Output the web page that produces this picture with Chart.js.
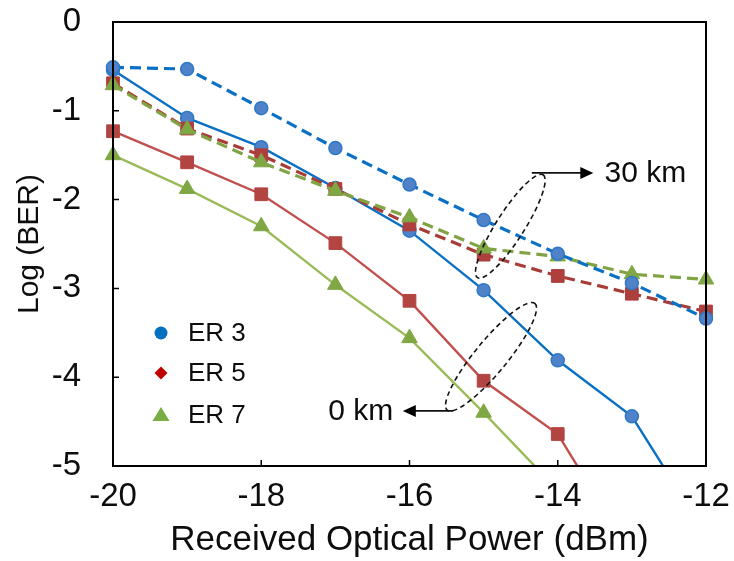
<!DOCTYPE html>
<html>
<head>
<meta charset="utf-8">
<script src="https://cdn.jsdelivr.net/npm/chart.js@4.4.1/dist/chart.umd.min.js"></script>
<style>
  html, body { margin: 0; padding: 0; background: #fff; }
  canvas { display: block; }
</style>
</head>
<body>
<canvas id="c" width="734" height="561"></canvas>
<script>
// Received optical power (dBm) and log10(BER) per extinction ratio and fibre length
const powerDbm = [-20, -19, -18, -17, -16, -15, -14, -13, -12];

const er3_0km  = [-0.54, -1.08, -1.41, -1.87, -2.35, -3.02, -3.81, -4.44, -5.77];
const er5_0km  = [-1.23, -1.58, -1.94, -2.49, -3.14, -4.04, -4.64, -6.00];
const er7_0km  = [-1.50, -1.88, -2.30, -2.96, -3.56, -4.40, -5.27];

const er3_30km = [-0.51, -0.53, -0.97, -1.42, -1.83, -2.23, -2.61, -2.94, -3.34];
const er5_30km = [-0.69, -1.20, -1.50, -1.88, -2.28, -2.62, -2.86, -3.06, -3.26];
const er7_30km = [-0.71, -1.21, -1.58, -1.90, -2.20, -2.55, -2.64, -2.84, -2.90];

const xTicks = [-20, -18, -16, -14, -12];
const yTicks = [0, -1, -2, -3, -4, -5];

const legendLabels = ['ER 3', 'ER 5', 'ER 7'];
const distanceLabels = ['30 km', '0 km'];

const FONT = '"Liberation Sans", Arial, Helvetica, sans-serif';
const TEXT = '#0d0d0d';

function toPoints(values) {
  return values.map((v, i) => ({ x: powerDbm[i], y: v }));
}

const BLUE = '#0a70c4';
const RED = '#c0504d';
const RED_DASH = '#a83c37';
const GREEN = '#9bbb59';
const GREEN_DASH = '#80a343';

function series(label, values, color, fill, pointStyle, radius, dashed, order) {
  return {
    label: label,
    data: toPoints(values),
    borderColor: color,
    borderWidth: dashed ? 3.2 : 2.4,
    borderDash: dashed ? [11, 6] : [],
    pointStyle: pointStyle,
    pointRadius: radius,
    pointBackgroundColor: fill,
    pointBorderColor: pointStyle === 'circle' ? '#2f78c6' : fill,
    pointBorderWidth: pointStyle === 'circle' ? 1.5 : 1,
    tension: 0,
    order: order,
    clip: { left: 20, right: 20, top: 20, bottom: 0 }
  };
}

const datasets = [
  series('ER 3 (30 km)', er3_30km, BLUE, '#4f82c9', 'circle', 6.5, true, 1),
  series('ER 7 (30 km)', er7_30km, GREEN_DASH, '#7fa744', 'triangle', 9, true, 2),
  series('ER 5 (30 km)', er5_30km, RED_DASH, '#ad3f3c', 'rect', 9, true, 3),
  series('ER 3 (0 km)', er3_0km, BLUE, '#4f82c9', 'circle', 6.5, false, 4),
  series('ER 5 (0 km)', er5_0km, RED, '#b24442', 'rect', 9, false, 5),
  series('ER 7 (0 km)', er7_0km, GREEN, '#7fa744', 'triangle', 9, false, 6)
];

// Plot frame with inward tick marks
const framePlugin = {
  id: 'frame',
  afterDraw(chart) {
    const { ctx, chartArea: a, scales } = chart;
    ctx.save();
    ctx.strokeStyle = '#000';
    ctx.lineWidth = 2;
    ctx.strokeRect(a.left, a.top, a.right - a.left, a.bottom - a.top);
    ctx.lineWidth = 1.5;
    ctx.beginPath();
    xTicks.forEach(v => {
      const px = scales.x.getPixelForValue(v);
      ctx.moveTo(px, a.bottom);
      ctx.lineTo(px, a.bottom - 6);
    });
    yTicks.forEach(v => {
      const py = scales.y.getPixelForValue(v);
      ctx.moveTo(a.left, py);
      ctx.lineTo(a.left + 6, py);
    });
    ctx.stroke();
    ctx.restore();
  }
};

// Legend inside the plot, lower left
const legendPlugin = {
  id: 'innerLegend',
  afterDraw(chart) {
    const { ctx, chartArea: a } = chart;
    const sx = a.left + 48;
    const tx = a.left + 75;
    const rows = [a.top + 311, a.top + 351, a.top + 393];
    ctx.save();
    ctx.fillStyle = '#0070c0';
    ctx.beginPath();
    ctx.arc(sx, rows[0], 6.5, 0, Math.PI * 2);
    ctx.fill();
    ctx.fillStyle = '#c00000';
    ctx.beginPath();
    ctx.moveTo(sx, rows[1] - 6.5);
    ctx.lineTo(sx + 6.5, rows[1]);
    ctx.lineTo(sx, rows[1] + 6.5);
    ctx.lineTo(sx - 6.5, rows[1]);
    ctx.closePath();
    ctx.fill();
    ctx.fillStyle = '#77ad42';
    ctx.beginPath();
    ctx.moveTo(sx, rows[2] - 8);
    ctx.lineTo(sx + 8.5, rows[2] + 6);
    ctx.lineTo(sx - 8.5, rows[2] + 6);
    ctx.closePath();
    ctx.fill();

    ctx.fillStyle = TEXT;
    ctx.font = '26px ' + FONT;
    ctx.textAlign = 'left';
    ctx.textBaseline = 'middle';
    legendLabels.forEach((t, i) => ctx.fillText(t, tx, rows[i] + 1));
    ctx.restore();
  }
};

// Dashed ellipses grouping the curves, with arrows to the distance labels
const callouts = [
  { cx: -14.64, cy: -2.30, rx: 61, ry: 14, angle: -57.5,
    from: [-14.35, -1.70], to: [-13.52, -1.70], text: distanceLabels[0], align: 'left', textX: -13.37 },
  { cx: -14.90, cy: -3.77, rx: 69, ry: 16, angle: -50.6,
    from: [-15.41, -4.38], to: [-16.09, -4.38], text: distanceLabels[1], align: 'right', textX: -16.22 }
];

const calloutPlugin = {
  id: 'callouts',
  afterDatasetsDraw(chart) {
    const { ctx, scales: { x, y } } = chart;
    ctx.save();
    callouts.forEach(c => {
      const cx = x.getPixelForValue(c.cx);
      const cy = y.getPixelForValue(c.cy);
      ctx.strokeStyle = '#111';
      ctx.lineWidth = 1.6;
      ctx.setLineDash([5, 3.5]);
      ctx.beginPath();
      ctx.ellipse(cx, cy, c.rx, c.ry, c.angle * Math.PI / 180, 0, Math.PI * 2);
      ctx.stroke();
      ctx.setLineDash([]);

      const x0 = x.getPixelForValue(c.from[0]);
      const y0 = y.getPixelForValue(c.from[1]);
      const x1 = x.getPixelForValue(c.to[0]);
      const dir = Math.sign(x1 - x0);
      ctx.lineWidth = 1.8;
      ctx.beginPath();
      ctx.moveTo(x0, y0);
      ctx.lineTo(x1 - dir * 10, y0);
      ctx.stroke();
      ctx.fillStyle = '#000';
      ctx.beginPath();
      ctx.moveTo(x1, y0);
      ctx.lineTo(x1 - dir * 13, y0 - 6);
      ctx.lineTo(x1 - dir * 13, y0 + 6);
      ctx.closePath();
      ctx.fill();

      ctx.fillStyle = TEXT;
      ctx.font = '30px ' + FONT;
      ctx.textAlign = c.align;
      ctx.textBaseline = 'middle';
      ctx.fillText(c.text, x.getPixelForValue(c.textX), y0 + 1);
    });
    ctx.restore();
  }
};

function noOverflow(scale) {
  scale.paddingTop = 0;
  scale.paddingBottom = 0;
  scale.paddingLeft = 0;
  scale.paddingRight = 0;
}

new Chart(document.getElementById('c'), {
  type: 'line',
  data: { datasets: datasets },
  plugins: [calloutPlugin, framePlugin, legendPlugin],
  options: {
    responsive: false,
    animation: false,
    devicePixelRatio: 1,
    layout: { padding: { top: 22, right: 28, left: 0, bottom: 0 } },
    plugins: { legend: { display: false }, tooltip: { enabled: false } },
    scales: {
      x: {
        type: 'linear',
        min: -20, max: -12,
        afterBuildTicks(scale) { scale.ticks = xTicks.map(v => ({ value: v })); },
        afterFit(scale) { scale.height = 95; noOverflow(scale); },
        grid: { display: false, drawTicks: false },
        border: { display: false },
        ticks: { color: TEXT, font: { family: FONT, size: 33 }, padding: 11, maxRotation: 0 },
        title: { display: true, text: 'Received Optical Power (dBm)', color: TEXT,
                 font: { family: FONT, size: 35 }, padding: { top: 0, bottom: 0 } }
      },
      y: {
        min: -5, max: 0,
        afterBuildTicks(scale) { scale.ticks = yTicks.map(v => ({ value: v })); },
        afterFit(scale) { scale.width = 113; noOverflow(scale); },
        grid: { display: false, drawTicks: false },
        border: { display: false },
        ticks: { color: TEXT, font: { family: FONT, size: 33 }, padding: 32 },
        title: { display: true, text: 'Log (BER)', color: TEXT,
                 font: { family: FONT, size: 30 }, padding: { top: 12, bottom: 0 } }
      }
    }
  }
});
</script>
</body>
</html>
